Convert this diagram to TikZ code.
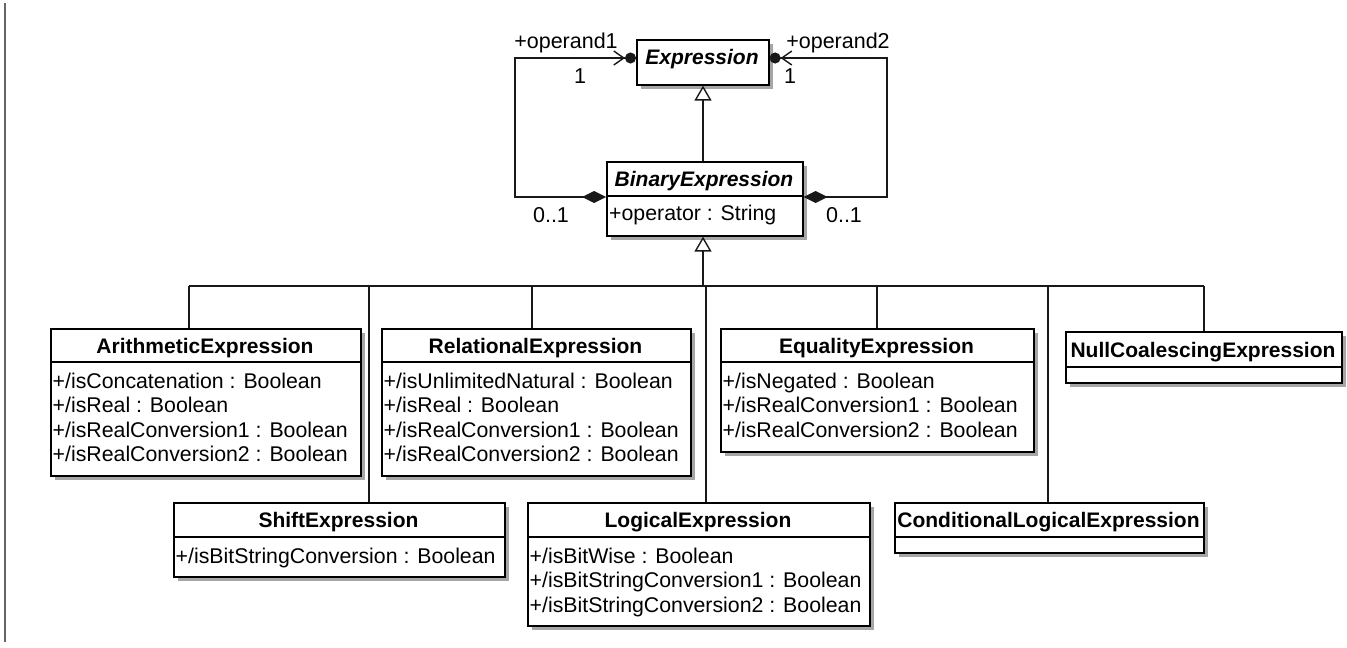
\documentclass[tikz,border=0pt]{standalone}
\usepackage{fontspec}
\setmainfont{Liberation Sans}
\usetikzlibrary{arrows.meta,shadows}
\newcommand\umlbox[8]{%
  \node[cls, minimum width={#4-#2}, minimum height={#5-#3}] (#1) at (#2,#3) {};
  \draw[divl] (#2,#6) -- (#4,#6);
  \node[hdr] (#1-h) at ({(#2+#4)/2},#7) {#8};
}
\newcommand\attrs[4]{%
  \foreach \t [count=\i] in {#4}{\node[attr] (#1-\i) at (#2,{#3+24.5*(\i-1)}) {\t};}
}
\begin{document}
\begin{tikzpicture}[x=1pt,y=-1pt,
  cls/.style={draw=black,line width=1.6pt,fill=white,inner sep=0pt,anchor=north west,
    drop shadow={shadow xshift=4.5pt,shadow yshift=-4.5pt,fill=black!35,opacity=1}},
  divl/.style={draw=black,line width=1.6pt},
  hdr/.style={font=\bfseries\fontsize{21}{24}\selectfont,inner sep=0pt,anchor=base},
  attr/.style={font=\fontsize{21.3}{24}\selectfont,inner sep=0pt,anchor=base west},
  lbl/.style={font=\fontsize{21.5}{24}\selectfont,inner sep=0pt,anchor=base},
  conn/.style={draw=black!90,line width=1.4pt,line join=miter},
  gen/.style={conn,-{Triangle[open,length=15pt,width=17pt,fill=white]}},
  assoc/.style={conn,{Diamond[length=24pt,width=12pt]}-{Straight Barb[length=10pt,width=14pt] Circle[length=11pt]}}
]
\useasboundingbox (0,0) rectangle (1347,648);
\draw[line width=1.2pt,black!60] (5,3) -- (5,642);

% Expression
\node[cls, minimum width=132, minimum height=45] (expr) at (636,39) {};
\node[hdr,font=\bfseries\itshape\fontsize{21}{24}\selectfont] (expr-h) at (702,64) {Expression};

% BinaryExpression
\umlbox{bin}{606}{161}{802}{235}{196}{186}{\itshape BinaryExpression}
\attrs{bin}{609}{220}{+operator : String}

% children
\umlbox{arith}{50}{328}{360}{475}{362}{353}{ArithmeticExpression}
\attrs{arith}{52.5}{388}{+/isConcatenation : Boolean,+/isReal : Boolean,+/isRealConversion1 : Boolean,+/isRealConversion2 : Boolean}

\umlbox{rel}{381}{328}{690}{475}{362}{353}{RelationalExpression}
\attrs{rel}{383.5}{388}{+/isUnlimitedNatural : Boolean,+/isReal : Boolean,+/isRealConversion1 : Boolean,+/isRealConversion2 : Boolean}

\umlbox{eq}{720}{328}{1033}{451}{362}{353}{EqualityExpression}
\attrs{eq}{722.5}{388}{+/isNegated : Boolean,+/isRealConversion1 : Boolean,+/isRealConversion2 : Boolean}

\umlbox{null}{1065}{331}{1341}{382}{367}{357.5}{NullCoalescingExpression}

\umlbox{shift}{173}{502}{504}{576}{537}{527.5}{ShiftExpression}
\attrs{shift}{175.5}{563}{+/isBitStringConversion : Boolean}

\umlbox{logic}{527}{502}{869}{625}{537}{527.5}{LogicalExpression}
\attrs{logic}{529.5}{563}{+/isBitWise : Boolean,+/isBitStringConversion1 : Boolean,+/isBitStringConversion2 : Boolean}

\umlbox{cond}{894}{502}{1203}{552}{537}{527.5}{ConditionalLogicalExpression}

% generalization tree
\coordinate (jA) at (189,286);
\coordinate (jS) at (369,286);
\coordinate (jR) at (532,286);
\coordinate (jG) at (703,286);
\coordinate (jL) at (706,286);
\coordinate (jE) at (877,286);
\coordinate (jC) at (1048,286);
\coordinate (jN) at (1204,286);
\draw[conn] (jA) -- (jN);
\draw[gen] (jG) -- (jG |- bin.south);
\draw[conn] (jA) -- (jA |- arith.north);
\draw[conn] (jS) -- (jS |- shift.north);
\draw[conn] (jR) -- (jR |- rel.north);
\draw[conn] (jL) -- (jL |- logic.north);
\draw[conn] (jE) -- (jE |- eq.north);
\draw[conn] (jC) -- (jC |- cond.north);
\draw[conn] (jN) -- (jN |- null.north);

% BinaryExpression -> Expression
\coordinate (g1) at (703,0);
\draw[gen] (bin.north -| g1) -- (expr.south -| g1);

% associations
\coordinate (l1) at (515,197);
\coordinate (l2) at (515,58);
\coordinate (r1) at (887,197);
\coordinate (r2) at (887,58);
\draw[assoc] (bin.west |- l1) -- (l1) -- (l2) -- (expr.west |- l2);
\draw[assoc] (bin.east |- r1) -- (r1) -- (r2) -- (expr.east |- r2);

\node[lbl] (op1) at (566,48) {+operand1};
\node[lbl] (m1) at (580,83) {1};
\node[lbl] (op2) at (838,48) {+operand2};
\node[lbl] (m2) at (790,83) {1};
\node[lbl] (z1) at (551,222) {0..1};
\node[lbl] (z2) at (844,222) {0..1};
\end{tikzpicture}
\end{document}
